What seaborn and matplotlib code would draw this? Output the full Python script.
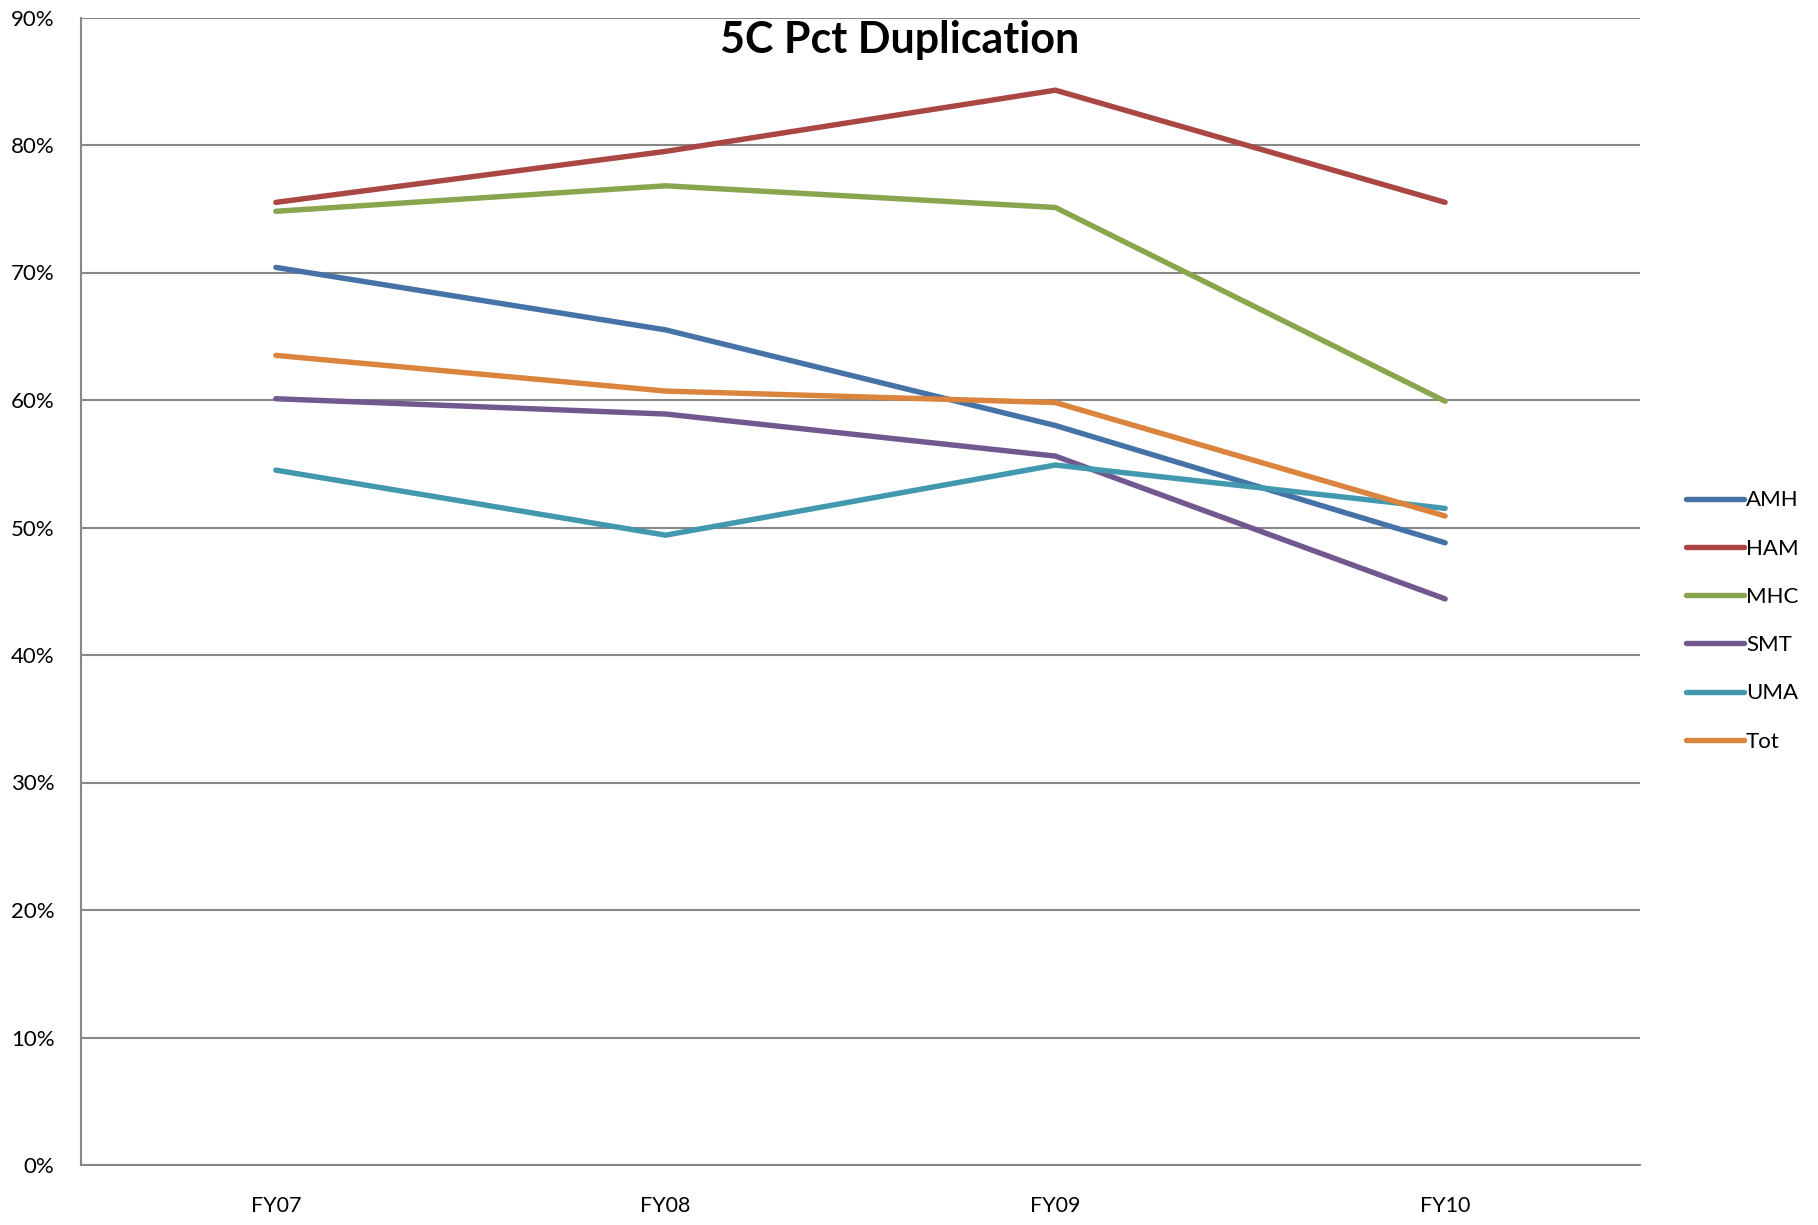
import numpy as np
import pandas as pd
import matplotlib
matplotlib.use("Agg")
import matplotlib.pyplot as plt
import seaborn as sns
from matplotlib.ticker import PercentFormatter

# Data (percent duplication)
years = ["FY07", "FY08", "FY09", "FY10"]
amh = [70.4, 65.5, 58.0, 48.8]
ham = [75.5, 79.5, 84.3, 75.5]
mhc = [74.8, 76.8, 75.1, 59.9]
smt = [60.1, 58.9, 55.6, 44.4]
uma = [54.5, 49.4, 54.9, 51.5]
tot = [63.5, 60.7, 59.8, 50.9]

series_names = ["AMH", "HAM", "MHC", "SMT", "UMA", "Tot"]
series_values = [amh, ham, mhc, smt, uma, tot]
colors = ["#4572A7", "#AA4643", "#89A54E", "#71588F", "#4198AF", "#DB843D"]

# Build long-form table for seaborn
rows = []
for name, vals in zip(series_names, series_values):
    for i, (yr, v) in enumerate(zip(years, vals)):
        rows.append({"year": yr, "pos": i, "series": name, "value": v})
df = pd.DataFrame(rows)

sns.set_style("white")
plt.rcParams["font.family"] = ["Lato", "DejaVu Sans"]
plt.rcParams["text.color"] = "black"
plt.rcParams["xtick.color"] = "black"
plt.rcParams["ytick.color"] = "black"

fig = plt.figure(figsize=(18.18, 12.25), dpi=100)
ax = fig.add_axes([81 / 1818, 60 / 1225, (1640 - 81) / 1818, (1165 - 17.5) / 1225])

sns.lineplot(data=df, x="pos", y="value", hue="series", hue_order=series_names,
             palette=colors, linewidth=3.9, ax=ax, legend=True)

ax.set_xlim(-0.5, 3.5)
ax.set_ylim(0, 90)
ax.set_yticks(np.arange(0, 91, 10))
ax.yaxis.set_major_formatter(PercentFormatter(decimals=0))
ax.set_xticks(np.arange(-0.5, 3.6, 1))
ax.set_xticklabels([])
ax.set_xticks(range(len(years)), minor=True)
ax.set_xticklabels(years, minor=True)
ax.tick_params(axis="x", which="minor", length=0, pad=22, labelsize=15.5)
ax.tick_params(axis="x", which="major", length=7, width=1.5, color="#888888", direction="out")
ax.tick_params(axis="y", length=7, width=1.5, color="#888888", direction="out", labelsize=16, pad=12)
ax.set_xlabel("")
ax.set_ylabel("")

ax.grid(axis="y", color="#888888", linewidth=1.5)
ax.set_axisbelow(True)
for s in ["top", "right"]:
    ax.spines[s].set_visible(False)
for s in ["left", "bottom"]:
    ax.spines[s].set_color("#888888")
    ax.spines[s].set_linewidth(1.5)

fig.text(900 / 1818, 1 - 40 / 1225, "5C Pct Duplication", fontsize=31, fontweight="bold",
         ha="center", va="center", color="black")

handles, labels = ax.get_legend_handles_labels()
ax.legend(handles, labels, loc="center left", bbox_to_anchor=(1677 / 1818, (1225 - 621) / 1225),
          bbox_transform=fig.transFigure, frameon=False, fontsize=16,
          handlelength=2.6, handletextpad=0.1, labelspacing=1.27, borderaxespad=0)

fig.savefig("out.png", dpi=100)
